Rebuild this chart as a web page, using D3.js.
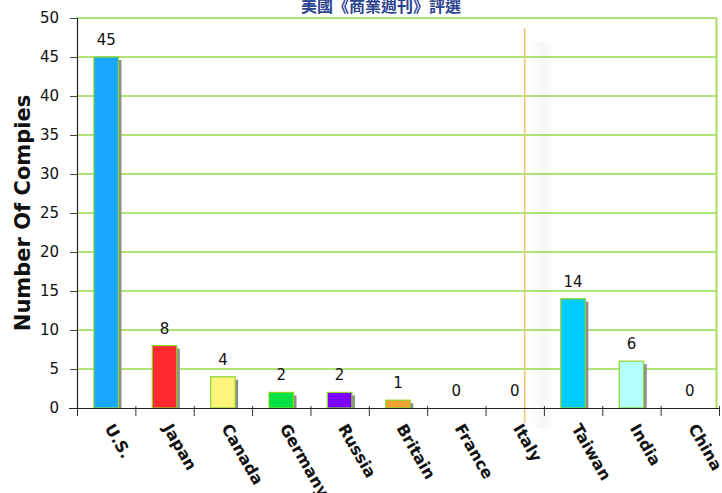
<!DOCTYPE html>
<html>
<head>
<meta charset="utf-8">
<script src="https://cdn.jsdelivr.net/npm/d3@7"></script>
<style>
  body { margin: 0; background: #fff; }
  text { font-family: "DejaVu Sans", Verdana, sans-serif; }
</style>
</head>
<body>
<script>
// data
const countries = ["U.S.", "Japan", "Canada", "Germany", "Russia", "Britain", "France", "Italy", "Taiwan", "India", "China"];
const companies = [45, 8, 4, 2, 2, 1, 0, 0, 14, 6, 0];
const barColors = ["#18a8ff", "#ff2a30", "#fff47c", "#00e244", "#7a00ff", "#f5a035", "#cccccc", "#cccccc", "#00ccff", "#b3ffff", "#cccccc"];
const yTicks = [0, 5, 10, 15, 20, 25, 30, 35, 40, 45, 50];
const title = "美國《商業週刊》評選";
const yLabel = "Number Of Compies";

// dimensions
const dms = {
    width: 722,
    height: 493,
    margins: { top: 18, right: 3, bottom: 85, left: 77 }
};
dms.innerWidth = dms.width - dms.margins.left - dms.margins.right;
dms.innerHeight = dms.height - dms.margins.top - dms.margins.bottom;

const svg = d3.select("body")
    .append("svg")
      .attr("width", dms.width)
      .attr("height", dms.height);

const g = svg.append("g")
    .attr("transform", `translate(${dms.margins.left},${dms.margins.top})`);

// scales
const xScale = d3.scaleBand()
    .domain(countries)
    .range([0, dms.innerWidth]);

const yScale = d3.scaleLinear()
    .domain([0, 50])
    .range([dms.innerHeight, 0]);

// grid
g.selectAll(".grid")
    .data(yTicks.filter(d => d > 0))
    .enter()
    .append("line")
      .attr("x1", 0)
      .attr("x2", dms.innerWidth - 2)
      .attr("y1", d => yScale(d))
      .attr("y2", d => yScale(d))
      .attr("stroke", "#b2e27a")
      .attr("stroke-width", 2);

g.append("line")
    .attr("x1", dms.innerWidth - 2.5).attr("x2", dms.innerWidth - 2.5)
    .attr("y1", 0).attr("y2", dms.innerHeight)
    .attr("stroke", "#a6de62")
    .attr("stroke-width", 2);

// separator between Italy and Taiwan
const sepX = xScale("Italy") + xScale.bandwidth() * 0.67;
const defs = svg.append("defs");
const grad = defs.append("linearGradient").attr("id", "shade");
grad.append("stop").attr("offset", "0%").attr("stop-color", "#000").attr("stop-opacity", 0);
grad.append("stop").attr("offset", "50%").attr("stop-color", "#000").attr("stop-opacity", 0.035);
grad.append("stop").attr("offset", "100%").attr("stop-color", "#000").attr("stop-opacity", 0);
g.append("rect")
    .attr("x", sepX + 6)
    .attr("y", yScale(47))
    .attr("width", 24)
    .attr("height", dms.innerHeight + 20 - yScale(47))
    .attr("fill", "url(#shade)");
g.append("line")
    .attr("x1", sepX).attr("x2", sepX)
    .attr("y1", yScale(48.7)).attr("y2", dms.innerHeight + 15)
    .attr("stroke", "#f7c068")
    .attr("stroke-width", 1.5);

// bars
const barW = xScale.bandwidth() * 0.42;
const valueOf = d => companies[countries.indexOf(d)];
const bars = g.selectAll(".bar")
    .data(countries)
    .enter()
    .append("g");

bars.filter(d => valueOf(d) > 0)
    .append("rect")
      .attr("x", d => xScale(d) + (xScale.bandwidth() - barW) / 2 + 3)
      .attr("y", d => yScale(valueOf(d)) + 3)
      .attr("width", barW)
      .attr("height", d => dms.innerHeight - yScale(valueOf(d)) - 3)
      .attr("fill", "#8c8c8c");

bars.filter(d => valueOf(d) > 0)
    .append("rect")
      .attr("x", d => xScale(d) + (xScale.bandwidth() - barW) / 2)
      .attr("y", d => yScale(valueOf(d)))
      .attr("width", barW)
      .attr("height", d => dms.innerHeight - yScale(valueOf(d)))
      .attr("fill", d => barColors[countries.indexOf(d)])
      .attr("stroke", "#8ed42a")
      .attr("stroke-width", 1.2);

bars.append("text")
    .attr("x", d => xScale(d) + xScale.bandwidth() / 2)
    .attr("y", d => yScale(valueOf(d)) - 12)
    .attr("text-anchor", "middle")
    .attr("font-size", 15)
    .attr("fill", "#111")
    .text(d => valueOf(d));

// axes
const yAxis = g.append("g")
    .call(d3.axisLeft(yScale).tickValues(yTicks).tickSize(7).tickPadding(11));
yAxis.select(".domain").attr("stroke", "#222").attr("stroke-width", 1.2);
yAxis.selectAll(".tick line").attr("stroke", "#444");
yAxis.selectAll("text")
    .attr("font-size", 15)
    .attr("font-family", "DejaVu Sans, Verdana, sans-serif")
    .attr("fill", "#111");

const xAxisScale = d3.scalePoint()
    .domain(d3.range(countries.length + 1))
    .range([0, dms.innerWidth]);
const xAxis = g.append("g")
    .attr("transform", `translate(0,${dms.innerHeight})`)
    .call(d3.axisBottom(xAxisScale).tickSize(7).tickFormat(""));
xAxis.select(".domain").attr("stroke", "#222").attr("stroke-width", 1.2).attr("d", `M-8,0.5H${dms.innerWidth}`);
xAxis.selectAll(".tick line").attr("stroke", "#333").attr("y1", -2).attr("y2", 8);

g.selectAll(".xlabel")
    .data(countries)
    .enter()
    .append("text")
      .attr("transform", d => `translate(${xScale(d) + xScale.bandwidth() / 2 - 2},${dms.innerHeight + 20}) rotate(60)`)
      .attr("font-size", 16)
      .attr("font-weight", "bold")
      .attr("fill", "#111")
      .text(d => d);

// y label
svg.append("text")
    .attr("transform", `translate(30,${dms.margins.top + dms.innerHeight / 2}) rotate(-90)`)
    .attr("text-anchor", "middle")
    .attr("font-size", 21)
    .attr("font-weight", "bold")
    .attr("fill", "#111")
    .text(yLabel);

// title (clipped at top, as in the original)
svg.append("text")
    .attr("x", 381)
    .attr("y", 12)
    .attr("text-anchor", "middle")
    .attr("font-size", 16)
    .attr("font-weight", "bold")
    .style("font-family", "'Noto Sans CJK TC', sans-serif")
    .attr("fill", "#2b4390")
    .text(title);
</script>
</body>
</html>
